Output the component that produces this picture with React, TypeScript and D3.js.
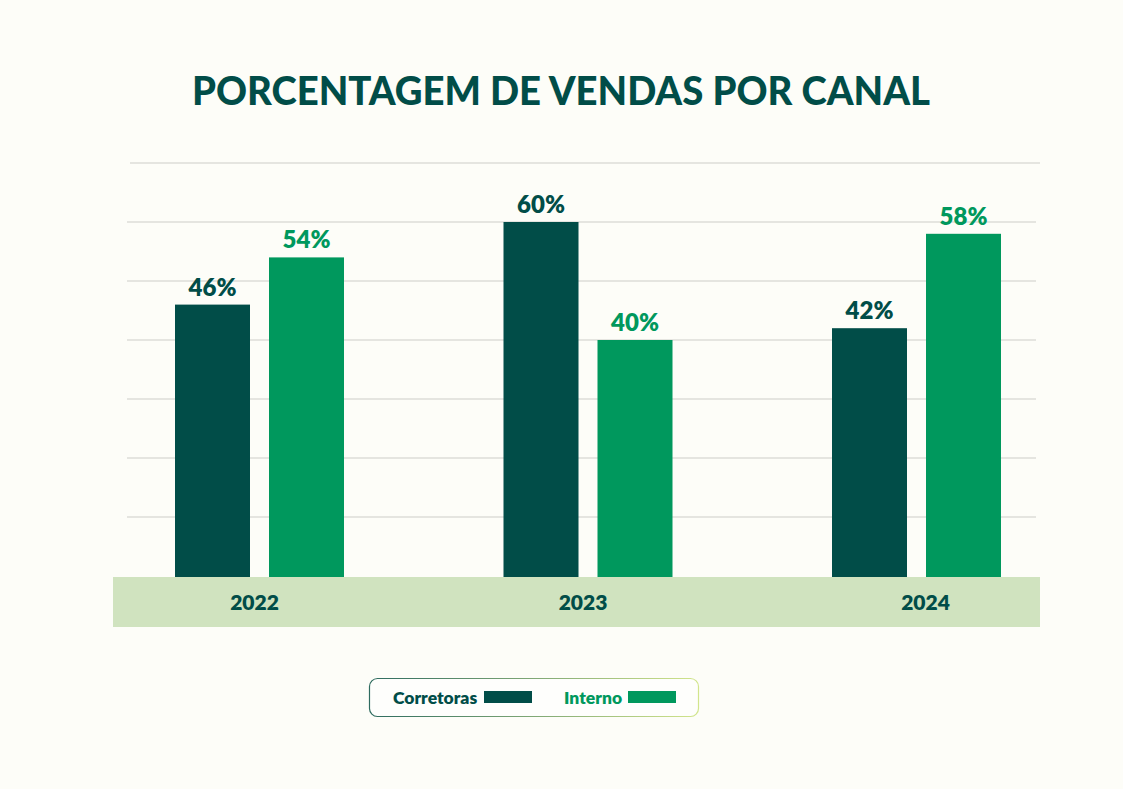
import React, { useRef, useEffect } from "react";
import * as d3 from "d3";

const years = ["2022", "2023", "2024"];
const series = ["Corretoras", "Interno"];
const corretoras = [46, 60, 42];
const interno = [54, 40, 58];
const gridTicks = [10, 20, 30, 40, 50, 60, 70];

const DARK = "#014d48";
const GREEN = "#00985d";
const BG = "#fdfdf8";
const FONT = "Lato, 'Open Sans', sans-serif";

const App: React.FC = () => {
  const svgRef = useRef<SVGSVGElement | null>(null);

  useEffect(() => {
    document.body.style.margin = "0";
    document.body.style.background = BG;
    if (!svgRef.current) return;
    const svg = d3.select(svgRef.current);
    svg.selectAll("*").remove();

    const width = 1123;
    const height = 789;

    svg.attr("width", width).attr("height", height);

    svg
      .append("rect")
      .attr("width", width)
      .attr("height", height)
      .attr("fill", BG);

    const defs = svg.append("defs");
    const grad = defs
      .append("linearGradient")
      .attr("id", "legendStroke")
      .attr("x1", "0%")
      .attr("x2", "100%")
      .attr("y1", "0%")
      .attr("y2", "0%");
    grad.append("stop").attr("offset", "0%").attr("stop-color", "#2e6b5f");
    grad.append("stop").attr("offset", "100%").attr("stop-color", "#d2e58c");

    // title
    svg
      .append("text")
      .attr("x", 561)
      .attr("y", 105)
      .attr("text-anchor", "middle")
      .attr("font-family", FONT)
      .attr("font-weight", 900)
      .attr("font-size", 40)
      .attr("fill", DARK)
      .attr("textLength", 738)
      .attr("lengthAdjust", "spacingAndGlyphs")
      .text("PORCENTAGEM DE VENDAS POR CANAL");

    const baseline = 576;
    const y = d3.scaleLinear().domain([0, 70]).range([baseline, baseline - 70 * 5.9]);

    const x = d3.scaleBand<string>().domain(years).range([95.25, 1080.75]).padding(0);
    const xInner = d3
      .scaleBand<string>()
      .domain(series)
      .range([-84.5, 84.5])
      .paddingInner(19 / 94)
      .paddingOuter(0);

    // gridlines
    svg
      .append("g")
      .selectAll("line")
      .data(gridTicks)
      .join("line")
      .attr("x1", (d) => (d === 70 ? 130 : 127))
      .attr("x2", (d) => (d === 70 ? 1040 : 1036))
      .attr("y1", (d) => y(d))
      .attr("y2", (d) => y(d))
      .attr("stroke", "#dcdcd8")
      .attr("stroke-width", 1.6);

    // category band
    svg
      .append("rect")
      .attr("x", 113)
      .attr("y", baseline + 1)
      .attr("width", 927)
      .attr("height", 50)
      .attr("fill", "#d0e3bf");

    const data = years.flatMap((yr, i) => [
      { year: yr, key: "Corretoras", value: corretoras[i] },
      { year: yr, key: "Interno", value: interno[i] },
    ]);

    const cx = (d: { year: string; key: string }) =>
      (x(d.year) || 0) + x.bandwidth() / 2 + (xInner(d.key) || 0);

    svg
      .append("g")
      .selectAll("rect")
      .data(data)
      .join("rect")
      .attr("x", (d) => cx(d))
      .attr("y", (d) => y(d.value))
      .attr("width", xInner.bandwidth())
      .attr("height", (d) => baseline + 1 - y(d.value))
      .attr("fill", (d) => (d.key === "Corretoras" ? DARK : GREEN));

    svg
      .append("g")
      .selectAll("text")
      .data(data)
      .join("text")
      .attr("x", (d) => cx(d) + xInner.bandwidth() / 2)
      .attr("y", (d) => y(d.value) - 9)
      .attr("text-anchor", "middle")
      .attr("font-family", FONT)
      .attr("font-weight", 800)
      .attr("font-size", 24)
      .attr("fill", (d) => (d.key === "Corretoras" ? DARK : GREEN))
      .text((d) => `${d.value}%`);

    // year labels
    svg
      .append("g")
      .selectAll("text")
      .data(years)
      .join("text")
      .attr("x", (d) => (x(d) || 0) + x.bandwidth() / 2 + (d === "2024" ? 9 : -5))
      .attr("y", baseline + 34)
      .attr("text-anchor", "middle")
      .attr("font-family", FONT)
      .attr("font-weight", 800)
      .attr("font-size", 21)
      .attr("fill", DARK)
      .text((d) => d);

    // legend
    const lg = svg.append("g");
    lg.append("rect")
      .attr("x", 369.5)
      .attr("y", 678.5)
      .attr("width", 329)
      .attr("height", 38)
      .attr("rx", 8)
      .attr("fill", "#fefefc")
      .attr("stroke", "url(#legendStroke)")
      .attr("stroke-width", 1.2);

    const legendItems = [
      { key: series[0], color: DARK, tx: 393, sx: 484 },
      { key: series[1], color: GREEN, tx: 564, sx: 628 },
    ];
    legendItems.forEach((it) => {
      lg.append("text")
        .attr("x", it.tx)
        .attr("y", 704)
        .attr("font-family", FONT)
        .attr("font-weight", 800)
        .attr("font-size", 17.5)
        .attr("fill", it.color)
        .text(it.key);
      lg.append("rect")
        .attr("x", it.sx)
        .attr("y", 691)
        .attr("width", 48)
        .attr("height", 12)
        .attr("fill", it.color);
    });
  }, []);

  return (
    <div>
      <svg ref={svgRef} style={{ display: "block" }} />
    </div>
  );
};

export default App;
